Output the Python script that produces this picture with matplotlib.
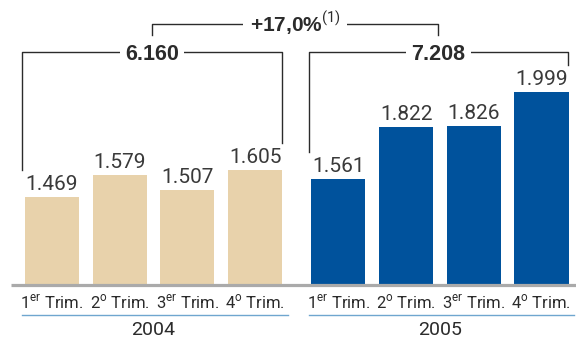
import numpy as np
import matplotlib
matplotlib.use('Agg')
import matplotlib.pyplot as plt

#%% data
quarters = [r'1$^{\mathrm{er}}$ Trim.', r'2$^{\mathrm{o}}$ Trim.', r'3$^{\mathrm{er}}$ Trim.', r'4$^{\mathrm{o}}$ Trim.']
years = ['2004', '2005']
values2004 = [1.469, 1.579, 1.507, 1.605]
values2005 = [1.561, 1.822, 1.826, 1.999]
totals = ['6.160', '7.208']
growth = r'+17,0%$^{\mathrm{(1)}}$'

#%% styling
beige = '#e8d2ab'
blue = '#00529c'
dark = '#2b2b2b'
narrow = ['Roboto', 'DejaVu Sans']
regular = ['Liberation Sans', 'DejaVu Sans']

plt.rcParams['mathtext.fontset'] = 'custom'
plt.rcParams['mathtext.rm'] = 'Roboto'

fig = plt.figure(figsize=(5.76, 3.38), dpi=100)
ax = fig.add_axes([0, 53/338, 1, 285/338])
ax.set_xlim(-0.768, 7.74)
ax.set_ylim(1.026, 2.462)
ax.axis('off')

gap = 4.23
x04 = np.arange(4)
x05 = np.arange(4) + gap
w = 0.8
ax.bar(x04, values2004, width=w, color=beige, bottom=0)
ax.bar(x05, values2005, width=w, color=blue, bottom=0)

# baseline
ax.plot([-0.606, 7.74], [1.026, 1.026], color='#aaaaaa', lw=2.3, clip_on=False, solid_capstyle='butt')

# value labels
for xs, vs in [(x04, values2004), (x05, values2005)]:
    for x, v in zip(xs, vs):
        ax.annotate(('%.3f' % v), xy=(x, v), xytext=(0, 5), textcoords='offset points',
                    ha='center', va='baseline', fontsize=15,
                    color='#3a3a3a', family=narrow)

# category labels and year labels
for xs, yr in [(x04, years[0]), (x05, years[1])]:
    for x, q in zip(xs, quarters):
        ax.annotate(q, xy=(x, 1.026), xytext=(0, -16.6), textcoords='offset points',
                    ha='center', va='baseline', fontsize=12, color=dark, family=narrow)
    ax.plot([xs[0] - 0.44, xs[-1] + 0.48], [0.875, 0.875], color='#6fa6cf', lw=1, clip_on=False)
    ax.annotate(yr, xy=(xs.mean(), 1.026), xytext=(0, -36), textcoords='offset points',
                ha='center', va='baseline', fontsize=14, color=dark, family=narrow)

# brackets with totals
ytop = 2.200
lift = 0.136
mids = []
for xs, vs, tot in [(x04, values2004, totals[0]), (x05, values2005, totals[1])]:
    xl = xs[0] - 0.44
    xr = xs[-1] + 0.39
    ax.plot([xl, xl, xr, xr], [vs[0] + lift, ytop, ytop, vs[-1] + lift], color=dark, lw=1, clip_on=False)
    xm = (xl + xr) / 2
    mids.append(xm)
    ax.text(xm, ytop - 0.040, tot, ha='center', va='baseline', fontsize=15.5, fontweight='bold',
            color=dark, family=regular,
            bbox=dict(boxstyle='square,pad=0.25', facecolor='white', edgecolor='none'))

# growth bracket
ytop2 = 2.341
ax.plot([mids[0], mids[0], mids[1], mids[1]], [ytop2 - 0.055, ytop2, ytop2, ytop2 - 0.055],
        color=dark, lw=1, clip_on=False)
ax.text((mids[0] + mids[1]) / 2, ytop2 - 0.040, growth, ha='center', va='baseline', fontsize=15,
        fontweight='bold', color=dark, family=regular,
        bbox=dict(boxstyle='square,pad=0.3', facecolor='white', edgecolor='none'))

fig.savefig('out.png', dpi=100)
